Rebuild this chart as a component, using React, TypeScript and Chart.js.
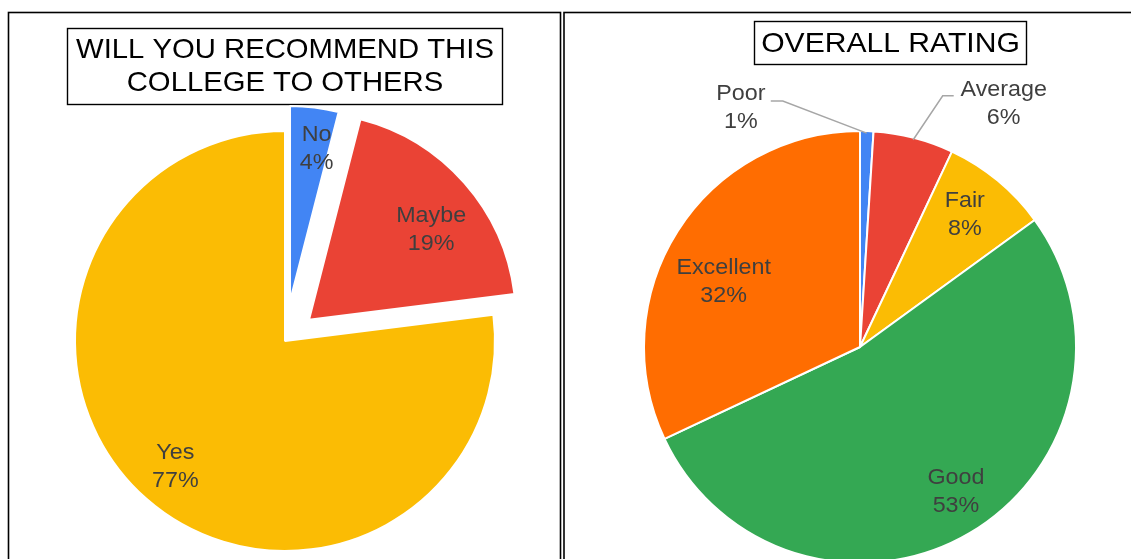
import React, { useEffect, useRef } from "react";
import { Chart, registerables } from "chart.js";

Chart.register(...registerables);

// ---------- data ----------
const recommendTitle = ["WILL YOU RECOMMEND THIS", "COLLEGE TO OTHERS"];
const recommendLabels = ["No", "Maybe", "Yes"];
const recommendValues = [4, 19, 77];
const recommendColors = ["#4285F4", "#EA4335", "#FBBC04"];

const ratingTitle = ["OVERALL RATING"];
const ratingLabels = ["Poor", "Average", "Fair", "Good", "Excellent"];
const ratingValues = [1, 6, 8, 53, 32];
const ratingColors = ["#4285F4", "#EA4335", "#FBBC04", "#34A853", "#FF6D01"];

// ---------- styling / layout ----------
type Box = { x: number; y: number; w: number; h: number };
type Outside = { elbow: [number, number]; tail: number; text: [number, number] };
type PieCfg = {
  title: string[];
  labels: string[];
  values: number[];
  colors: string[];
  center: [number, number];
  radius: number;
  explode: number[];
  radiusScale: number[];
  labelPos: number[];
  labelNudge: [number, number][];
  outside: Record<number, Outside>;
  frame: Box;
  titleBox: Box;
  titleLines: number[];
  titleScale: number;
};

const W = 1131;
const H = 600;
const FONT = "'Liberation Sans', Arial, sans-serif";
const LABEL_COLOR = "#3f3f3f";
const LABEL_SCALE_X = 1.06;

const recommendCfg: PieCfg = {
  title: recommendTitle,
  labels: recommendLabels,
  values: recommendValues,
  colors: recommendColors,
  center: [285, 341],
  radius: 210,
  explode: [40, 32, 0],
  radiusScale: [0.93, 0.986, 1],
  labelPos: [0.8, 0.735, 0.79],
  labelNudge: [[7, 3], [8, 11], [0, 1]],
  outside: {},
  frame: { x: 8.5, y: 12.5, w: 552, h: 700 },
  titleBox: { x: 67.5, y: 28.5, w: 435, h: 76 },
  titleLines: [50, 83],
  titleScale: 1.045,
};

const ratingCfg: PieCfg = {
  title: ratingTitle,
  labels: ratingLabels,
  values: ratingValues,
  colors: ratingColors,
  center: [860, 347],
  radius: 216,
  explode: [0, 0, 0, 0, 0],
  radiusScale: [1, 1, 1, 1, 1],
  labelPos: [1, 1, 0.79, 0.8, 0.72],
  labelNudge: [[0, 0], [0, 2], [-4, -1], [8, -4], [-5, 18]],
  outside: {
    0: { elbow: [-84, -30], tail: -12, text: [-30, 7] },
    1: { elbow: [29, -42], tail: 11, text: [50, 8] },
  },
  frame: { x: 564, y: 12.5, w: 700, h: 700 },
  titleBox: { x: 754.5, y: 21.5, w: 272, h: 43 },
  titleLines: [44],
  titleScale: 1.075,
};

function drawScaled(ctx: CanvasRenderingContext2D, text: string, x: number, y: number, sx: number) {
  ctx.save();
  ctx.translate(x, y);
  ctx.scale(sx, 1);
  ctx.fillText(text, 0, 0);
  ctx.restore();
}

function makePlugins(cfg: PieCfg) {
  const explodePlugin = {
    id: "explode",
    afterDatasetsUpdate(chart: any) {
      const meta = chart.getDatasetMeta(0);
      meta.data.forEach((el: any, i: number) => {
        const mid = (el.startAngle + el.endAngle) / 2;
        const d = cfg.explode[i] || 0;
        el.x += Math.cos(mid) * d;
        el.y += Math.sin(mid) * d;
        el.outerRadius = el.outerRadius * (cfg.radiusScale[i] ?? 1);
      });
    },
  };

  const framePlugin = {
    id: "frame",
    beforeDraw(chart: any) {
      const ctx = chart.ctx as CanvasRenderingContext2D;
      ctx.save();
      ctx.strokeStyle = "#000";
      ctx.lineWidth = 1.6;
      const f = cfg.frame;
      ctx.strokeRect(f.x, f.y, f.w, f.h);
      const t = cfg.titleBox;
      ctx.lineWidth = 1.4;
      ctx.strokeRect(t.x, t.y, t.w, t.h);
      ctx.fillStyle = "#000";
      ctx.font = `28px ${FONT}`;
      ctx.textAlign = "center";
      ctx.textBaseline = "middle";
      const cx = t.x + t.w / 2;
      cfg.title.forEach((line, i) => drawScaled(ctx, line, cx, cfg.titleLines[i], cfg.titleScale));
      ctx.restore();
    },
  };

  const labelPlugin = {
    id: "sliceLabels",
    afterDatasetsDraw(chart: any) {
      const ctx = chart.ctx as CanvasRenderingContext2D;
      const meta = chart.getDatasetMeta(0);
      const total = cfg.values.reduce((a, b) => a + b, 0);
      ctx.save();
      ctx.font = `22px ${FONT}`;
      ctx.textAlign = "center";
      ctx.textBaseline = "middle";
      meta.data.forEach((el: any, i: number) => {
        const mid = (el.startAngle + el.endAngle) / 2;
        const lines = [cfg.labels[i], Math.round((cfg.values[i] / total) * 100) + "%"];
        let tx: number;
        let ty: number;
        const out = cfg.outside[i];
        if (out) {
          const ox = el.x + Math.cos(mid) * el.outerRadius;
          const oy = el.y + Math.sin(mid) * el.outerRadius;
          const ex = ox + out.elbow[0];
          const ey = oy + out.elbow[1];
          ctx.strokeStyle = "#a6a6a6";
          ctx.lineWidth = 1.5;
          ctx.beginPath();
          ctx.moveTo(ox - Math.cos(mid) * 2, oy - Math.sin(mid) * 2);
          ctx.lineTo(ex, ey);
          ctx.lineTo(ex + out.tail, ey);
          ctx.stroke();
          tx = ex + out.tail + out.text[0];
          ty = ey + out.text[1];
        } else {
          const rr = el.outerRadius * cfg.labelPos[i];
          const nudge = cfg.labelNudge[i] || [0, 0];
          tx = el.x + Math.cos(mid) * rr + nudge[0];
          ty = el.y + Math.sin(mid) * rr + nudge[1];
        }
        ctx.fillStyle = LABEL_COLOR;
        drawScaled(ctx, lines[0], tx, ty - 14, LABEL_SCALE_X);
        drawScaled(ctx, lines[1], tx, ty + 14, LABEL_SCALE_X);
      });
      ctx.restore();
    },
  };

  return [explodePlugin, framePlugin, labelPlugin];
}

function PieChart({ cfg }: { cfg: PieCfg }) {
  const ref = useRef<HTMLCanvasElement>(null);
  useEffect(() => {
    if (!ref.current) return;
    const half = 250;
    const [cx, cy] = cfg.center;
    const chart = new Chart(ref.current, {
      type: "pie",
      data: {
        labels: cfg.labels,
        datasets: [
          {
            data: cfg.values,
            backgroundColor: cfg.colors,
            borderColor: "#ffffff",
            borderWidth: 2,
            radius: cfg.radius,
          } as any,
        ],
      },
      options: {
        responsive: false,
        animation: false,
        events: [],
        layout: {
          padding: { left: cx - half, right: W - cx - half, top: cy - half, bottom: H - cy - half },
        },
        plugins: {
          legend: { display: false },
          tooltip: { enabled: false },
          title: { display: false },
        },
      } as any,
      plugins: makePlugins(cfg) as any,
    });
    return () => chart.destroy();
  }, [cfg]);
  return (
    <canvas
      ref={ref}
      width={W}
      height={H}
      style={{ position: "absolute", left: 0, top: 0, width: W, height: H }}
    />
  );
}

export default function App() {
  return (
    <div
      style={{
        position: "fixed",
        left: 0,
        top: 0,
        width: W,
        height: 559,
        overflow: "hidden",
        background: "#fff",
      }}
    >
      <PieChart cfg={recommendCfg} />
      <PieChart cfg={ratingCfg} />
    </div>
  );
}
